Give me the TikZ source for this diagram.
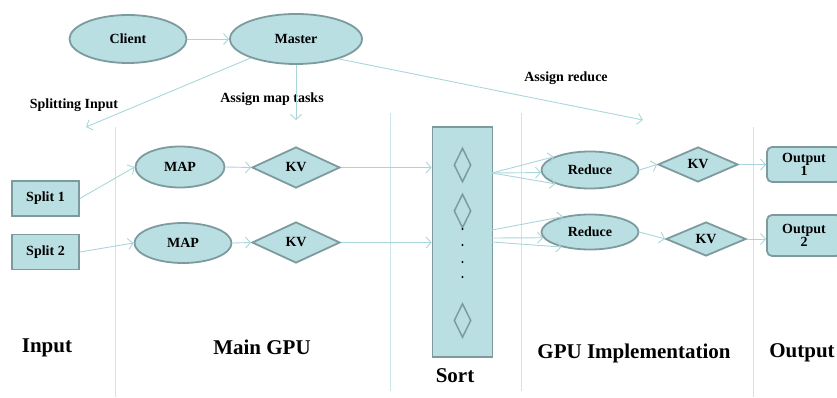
\documentclass[tikz,border=0pt]{standalone}
\usepackage{fontspec}
\setmainfont{Liberation Serif}
\usetikzlibrary{shapes.geometric,arrows.meta}
\definecolor{boxfill}{HTML}{BADFE3}
\definecolor{boxline}{HTML}{7D9B9E}
\definecolor{arrcol}{HTML}{A9D6DB}
\definecolor{vcol}{HTML}{CDE6E9}
\tikzset{
  base/.style={fill=boxfill,draw=boxline,line width=1.8pt,inner sep=0pt,
    font=\fontsize{14}{15}\selectfont\bfseries,align=center},
  ell/.style={base,ellipse},
  dia/.style={base,diamond},
  rect/.style={base,rectangle},
  rrect/.style={base,rectangle,rounded corners=5pt},
  conn/.style={draw=arrcol,line width=0.9pt,-{Straight Barb[length=5pt,width=11pt]}},
  vline/.style={draw=vcol,line width=0.9pt},
  lbl/.style={font=\fontsize{14}{15}\selectfont\bfseries,inner sep=0pt},
  title/.style={font=\fontsize{21}{23}\selectfont\bfseries,inner sep=0pt},
  idia/.style={draw=boxline,line width=1.5pt,diamond,minimum width=17pt,minimum height=34pt,inner sep=0pt}
}
\begin{document}
\begin{tikzpicture}[x=1pt,y=-1pt]
\useasboundingbox (0,0) rectangle (837,398);
% vertical separators
\draw[vline] (115,127) -- (115,397);
\draw[vline] (390,113) -- (390,391);
\draw[vline] (521,113) -- (521,391);
\draw[vline] (753,127) -- (753,397);
% top
\node[ell,minimum width=117pt,minimum height=48pt] (client) at (128,39) {Client};
\node[ell,minimum width=132pt,minimum height=50pt] (master) at (296,39) {Master};
\coordinate (csplit) at (86,127);
\coordinate (cmap) at (296,120);
\coordinate (cred) at (643,120);
\node[lbl] (lsplit) at (74,105) {Splitting Input};
\node[lbl] (lmap) at (272,99) {Assign map tasks};
\node[lbl] (lred) at (566,78) {Assign reduce};
\draw[conn] (client) -- (master);
\draw[conn] (master) -- (csplit);
\draw[conn] (master) -- (cmap);
\draw[conn] (master.-25) -- (cred);
% input
\node[rect,minimum width=67pt,minimum height=35pt] (split1) at (45.5,198.5) {Split 1};
\node[rect,minimum width=67pt,minimum height=35pt] (split2) at (45.5,252) {Split 2};
% main gpu
\node[ell,minimum width=89pt,minimum height=41pt] (map1) at (180,167) {MAP};
\node[ell,minimum width=97pt,minimum height=40pt] (map2) at (183,243) {MAP};
\node[dia,minimum width=88pt,minimum height=41pt] (kv1) at (296,167.5) {KV};
\node[dia,minimum width=88pt,minimum height=41pt] (kv2) at (296,242.5) {KV};
\draw[conn] (split1.east) -- (map1.west);
\draw[conn] (split2.east) -- (map2.west);
\draw[conn] (map1.east) -- (kv1.west);
\draw[conn] (map2.east) -- (kv2.west);
% sort
\node[rect,minimum width=60pt,minimum height=230pt] (sort) at (462.5,242) {};
\node[idia] (sd1) at (462.5,165) {};
\node[idia] (sd2) at (462.5,211) {};
\node[idia] (sd3) at (462.5,320.5) {};
\foreach \yy/\nm in {229/d1,245/d2,262/d3,277/d4}
  \fill (462.5,\yy) circle (1.1pt) coordinate (\nm);
\draw[conn] (kv1.east) -- (kv1.east -| sort.west);
\draw[conn] (kv2.east) -- (kv2.east -| sort.west);
% gpu implementation
\node[ell,minimum width=97pt,minimum height=37pt] (red1) at (590,170) {Reduce};
\node[ell,minimum width=97pt,minimum height=35pt] (red2) at (590,232) {Reduce};
\node[dia,minimum width=80pt,minimum height=35pt] (kv3) at (698,164.5) {KV};
\node[dia,minimum width=80pt,minimum height=34pt] (kv4) at (706,239) {KV};
\coordinate (sa) at (492,173);
\coordinate (sb) at (492,230);
\coordinate (sc) at (492,238);
\coordinate (sd) at (492,242);
\draw[conn] (sa) -- (red1.160);
\draw[conn] (sa) -- (red1.183);
\draw[conn] (sa) -- (red1.202);
\draw[conn] (sb) -- (red2.150);
\draw[conn] (sc) -- (red2.187);
\draw[conn] (sd) -- (red2.208);
\draw[conn] (red1.east) -- (kv3.west);
\draw[conn] (red2.east) -- (kv4.west);
% output
\node[rrect,minimum width=74pt,minimum height=35pt] (out1) at (804,164.5) {Output\\[-2pt]1};
\node[rrect,minimum width=74pt,minimum height=41pt] (out2) at (804,235.5) {Output\\[-2pt]2};
\draw[conn] (kv3.east) -- (kv3.east -| out1.west);
\draw[conn] (kv4.east) -- (kv4.east -| out2.west);
% titles
\node[title] (tin) at (47,348) {Input};
\node[title] (tmain) at (262,347) {Main GPU};
\node[title] (tsort) at (455,376) {Sort};
\node[title] (timpl) at (634,353) {GPU Implementation};
\node[title] (tout) at (802,353) {Output};
\end{tikzpicture}
\end{document}
